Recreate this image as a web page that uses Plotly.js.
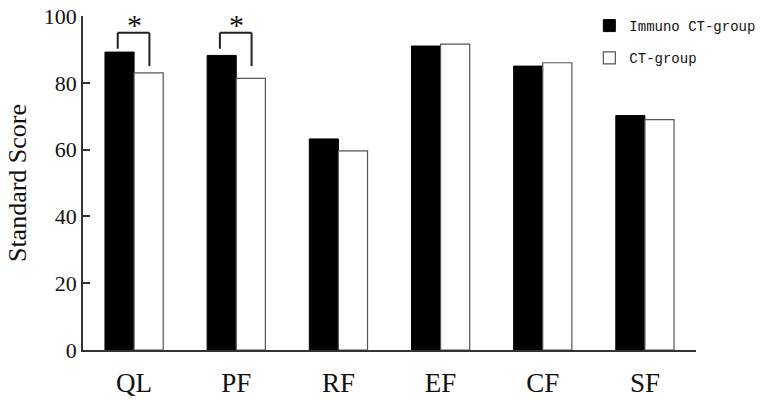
<!DOCTYPE html>
<html>
<head>
<meta charset="utf-8">
<script src="https://cdn.plot.ly/plotly-3.0.1.min.js"></script>
<style>
  html, body { margin: 0; padding: 0; background: #fff; }
  #chart { width: 760px; height: 401px; }
</style>
</head>
<body>
<div id="chart"></div>
<script>
// categories and scores
var categories = ["QL", "PF", "RF", "EF", "CF", "SF"];
var immunoCT = [89.2, 88.2, 63.2, 91.0, 85.0, 70.2];
var ctGroup = [83.0, 81.3, 59.6, 91.6, 86.0, 69.0];

// significance brackets (category index, bracket top, left leg end, right leg end)
var sigIndex = [0, 1];
var sigTop = [95, 95];
var sigLeft = [90.2, 90.2];
var sigRight = [85, 85];

var serif = "Liberation Serif, Times New Roman, serif";

var traceImmuno = {
    x: categories,
    y: immunoCT,
    type: "bar",
    name: "Immuno CT-group",
    legendgroup: "a",
    marker: {color: "#000", line: {color: "#000", width: 1}},
    hoverinfo: "x+y"
};
var traceCT = {
    x: categories,
    y: ctGroup,
    type: "bar",
    name: "CT-group",
    legendgroup: "b",
    marker: {color: "#fff", line: {color: "#555", width: 1.2}},
    hoverinfo: "x+y"
};

// build bracket shapes and stars from the arrays above
var shapes = [];
var annotations = [];
sigIndex.forEach(function(c, i) {
    var l = c - 0.16, r = c + 0.15;
    var lineStyle = {color: "#222", width: 2};
    shapes.push({type: "line", xref: "x", yref: "y", x0: l, x1: l, y0: sigLeft[i], y1: sigTop[i], line: lineStyle});
    shapes.push({type: "line", xref: "x", yref: "y", x0: l, x1: r, y0: sigTop[i], y1: sigTop[i], line: lineStyle});
    shapes.push({type: "line", xref: "x", yref: "y", x0: r, x1: r, y0: sigTop[i], y1: sigRight[i], line: lineStyle});
    annotations.push({
        x: c, y: sigTop[i], xref: "x", yref: "y",
        text: "*", showarrow: false, yanchor: "bottom", yshift: -10,
        font: {family: serif, size: 30, color: "#111"}
    });
});

var layout = {
    width: 760,
    height: 401,
    margin: {l: 83, r: 64, t: 16, b: 51, autoexpand: false},
    paper_bgcolor: "#fff",
    plot_bgcolor: "#fff",
    barmode: "group",
    bargap: 0.43,
    bargroupgap: 0,
    showlegend: true,
    legend: {
        x: 0.826, xanchor: "left",
        y: 1.018, yanchor: "top",
        traceorder: "grouped",
        tracegroupgap: 11,
        font: {family: "Liberation Mono, DejaVu Sans Mono, monospace", size: 14, color: "#111"},
        bgcolor: "rgba(0,0,0,0)"
    },
    xaxis: {
        type: "category",
        range: [-0.5, 5.5],
        showline: true,
        linecolor: "#333",
        linewidth: 1.5,
        ticks: "",
        showgrid: false,
        zeroline: false,
        ticklabelstandoff: 8,
        tickfont: {family: serif, size: 27, color: "#111"}
    },
    yaxis: {
        range: [0, 100],
        tickvals: [0, 20, 40, 60, 80, 100],
        showline: true,
        linecolor: "#333",
        linewidth: 1.5,
        ticks: "inside",
        ticklen: 7,
        tickcolor: "#333",
        tickwidth: 1.5,
        showgrid: false,
        zeroline: false,
        tickfont: {family: serif, size: 22, color: "#111"},
        title: {text: "Standard Score", standoff: 10, font: {family: serif, size: 26, color: "#111"}}
    },
    shapes: shapes,
    annotations: annotations
};

Plotly.newPlot("chart", [traceImmuno, traceCT], layout, {displayModeBar: false});
</script>
</body>
</html>
